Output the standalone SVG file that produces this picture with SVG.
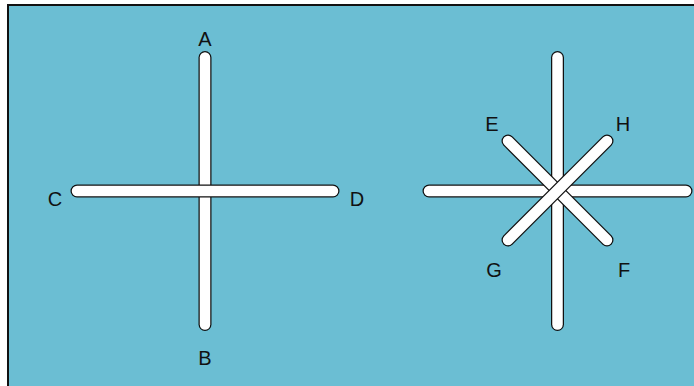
<svg xmlns="http://www.w3.org/2000/svg" width="694" height="386" viewBox="0 0 694 386">
<style>
.o{stroke:#111;stroke-width:13;stroke-linecap:round;fill:none}
.i{stroke:#fff;stroke-width:10.5;stroke-linecap:round;fill:none}
text{font-family:"Liberation Sans",Arial,sans-serif;font-size:20px;fill:#111;text-anchor:middle}
</style>
<rect x="0" y="0" width="694" height="386" fill="#fff"/>
<rect x="8" y="5" width="700" height="400" fill="#6BBED3" stroke="#111" stroke-width="2"/>
<g id="connectors">
<g id="left-cross">
<g id="bar-AB"><line class="o" x1="205" y1="57.5" x2="205" y2="324.5"/><line class="i" x1="205" y1="57.5" x2="205" y2="324.5"/></g>
<g id="bar-CD"><line class="o" x1="77" y1="191" x2="333" y2="191"/><line class="i" x1="77" y1="191" x2="333" y2="191"/></g>
</g>
<g id="right-star">
<g id="bar-V"><line class="o" x1="557.5" y1="57.5" x2="557.5" y2="324.5"/><line class="i" x1="557.5" y1="57.5" x2="557.5" y2="324.5"/></g>
<g id="bar-H"><line class="o" x1="429" y1="191" x2="686" y2="191"/><line class="i" x1="429" y1="191" x2="686" y2="191"/></g>
<g id="bar-EF"><line class="o" x1="508" y1="141" x2="607" y2="240"/><line class="i" x1="508" y1="141" x2="607" y2="240"/></g>
<g id="bar-GH"><line class="o" x1="508" y1="240" x2="607" y2="141"/><line class="i" x1="508" y1="240" x2="607" y2="141"/></g>
</g>
</g>
<g id="A"><text x="205" y="46">A</text></g>
<g id="B"><text x="205" y="365">B</text></g>
<g id="C"><text x="55" y="206">C</text></g>
<g id="D"><text x="357" y="206">D</text></g>
<g id="E"><text x="492" y="131">E</text></g>
<g id="H"><text x="623" y="131">H</text></g>
<g id="G"><text x="494" y="277">G</text></g>
<g id="F"><text x="624" y="277">F</text></g>
</svg>
